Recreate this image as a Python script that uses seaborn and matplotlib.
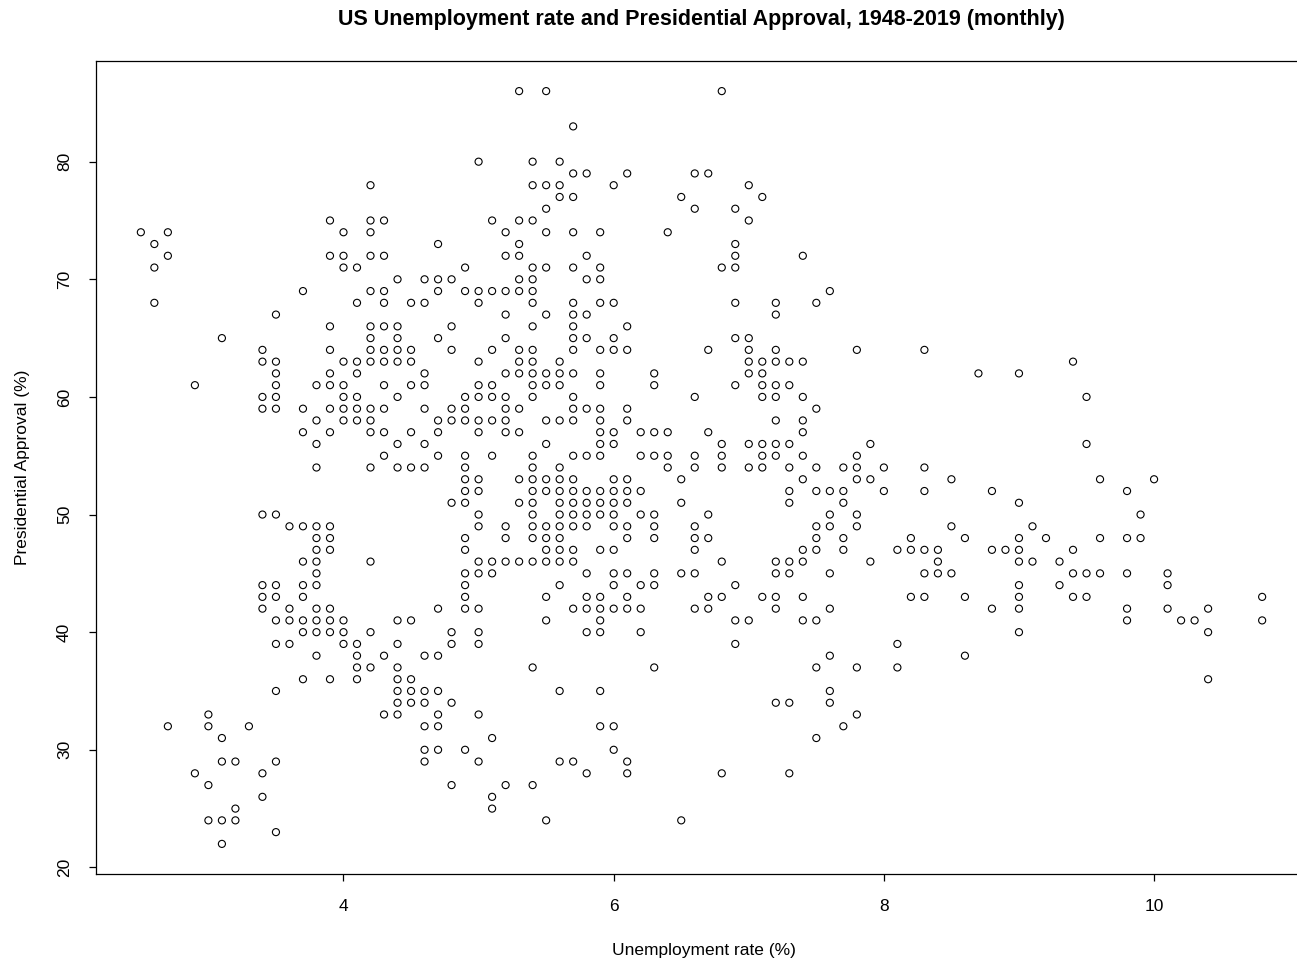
import matplotlib
matplotlib.use("Agg")
import matplotlib.pyplot as plt
import seaborn as sns
import pandas as pd

# Presidential approval levels (%) and the unemployment rates (%) observed at each level
approval_levels = [86, 83, 80, 79, 78, 77, 76, 75, 74, 73, 72, 71, 70, 69, 68, 67, 66, 65,
                   64, 63, 62, 61, 60, 59, 58, 57, 56, 55, 54, 53, 52, 51, 50, 49, 48, 47,
                   46, 45, 44, 43, 42, 41, 40, 39, 38, 37, 36, 35, 34, 33, 32, 31, 30, 29,
                   28, 27, 26, 25, 24, 23, 22]

unemployment_by_level = [
    [5.3, 5.5, 6.8],
    [5.7],
    [5.0, 5.4, 5.6],
    [5.7, 5.8, 6.1, 6.6, 6.7],
    [4.2, 5.4, 5.5, 5.6, 6.0, 7.0],
    [5.6, 5.7, 6.5, 7.1],
    [5.5, 6.6, 6.9],
    [3.9, 4.2, 4.3, 5.1, 5.3, 5.4, 7.0],
    [2.5, 2.7, 4.0, 4.2, 5.2, 5.5, 5.7, 5.9, 6.4],
    [2.6, 4.7, 5.3, 6.9],
    [2.7, 3.9, 4.0, 4.2, 4.3, 5.2, 5.3, 5.8, 6.9, 7.4],
    [2.6, 4.0, 4.1, 4.9, 5.4, 5.5, 5.7, 5.9, 6.8, 6.9],
    [4.4, 4.6, 4.7, 4.8, 5.3, 5.4, 5.8, 5.9],
    [3.7, 4.2, 4.3, 4.7, 4.9, 5.0, 5.1, 5.2, 5.3, 5.4, 7.6],
    [2.6, 4.1, 4.3, 4.5, 4.6, 5.0, 5.4, 5.7, 5.9, 6.0, 6.9, 7.2, 7.5],
    [3.5, 5.2, 5.5, 5.7, 5.8, 7.2],
    [3.9, 4.2, 4.3, 4.4, 4.8, 5.4, 5.7, 6.1],
    [3.1, 4.2, 4.4, 4.7, 5.2, 5.7, 5.8, 6.0, 6.9, 7.0],
    [3.4, 3.9, 4.2, 4.3, 4.4, 4.5, 4.8, 5.1, 5.3, 5.4, 5.7, 5.9, 6.0, 6.1, 6.7, 7.0, 7.2,
     7.8, 8.3],
    [3.4, 3.5, 4.0, 4.1, 4.2, 4.3, 4.4, 4.5, 5.0, 5.3, 5.4, 5.6, 7.0, 7.1, 7.2, 7.3, 7.4, 9.4],
    [3.5, 3.9, 4.1, 4.6, 5.2, 5.3, 5.4, 5.5, 5.6, 5.7, 5.9, 6.3, 7.0, 7.1, 8.7, 9.0],
    [2.9, 3.5, 3.8, 3.9, 4.0, 4.3, 4.5, 4.6, 5.0, 5.1, 5.4, 5.5, 5.6, 5.9, 6.3, 6.9, 7.1,
     7.2, 7.3],
    [3.4, 3.5, 4.0, 4.1, 4.4, 4.9, 5.0, 5.1, 5.2, 5.4, 5.7, 6.6, 7.1, 7.2, 7.4, 9.5],
    [3.4, 3.5, 3.7, 3.9, 4.0, 4.1, 4.2, 4.3, 4.6, 4.8, 4.9, 5.2, 5.3, 5.7, 5.8, 5.9, 6.1, 7.5],
    [3.8, 4.0, 4.1, 4.2, 4.7, 4.8, 4.9, 5.0, 5.1, 5.2, 5.5, 5.6, 5.7, 5.9, 6.1, 7.2, 7.4],
    [3.7, 3.9, 4.2, 4.3, 4.5, 4.7, 5.0, 5.2, 5.3, 5.9, 6.0, 6.2, 6.3, 6.4, 6.7, 7.4],
    [3.8, 4.4, 4.6, 5.5, 5.9, 6.0, 6.8, 7.0, 7.1, 7.2, 7.3, 7.9, 9.5],
    [4.3, 4.7, 4.9, 5.1, 5.4, 5.7, 5.8, 5.9, 6.2, 6.3, 6.4, 6.6, 6.8, 7.1, 7.2, 7.4, 7.8],
    [3.8, 4.2, 4.4, 4.5, 4.6, 4.9, 5.4, 5.6, 6.4, 6.6, 6.8, 7.0, 7.1, 7.3, 7.5, 7.7, 7.8,
     8.0, 8.3],
    [4.9, 5.0, 5.3, 5.4, 5.5, 5.6, 5.7, 6.0, 6.1, 6.5, 7.4, 7.8, 7.9, 8.5, 9.6, 10.0],
    [4.9, 5.0, 5.4, 5.5, 5.6, 5.7, 5.8, 5.9, 6.0, 6.1, 6.2, 7.3, 7.5, 7.6, 7.7, 8.0, 8.3,
     8.8, 9.8],
    [4.8, 4.9, 5.3, 5.4, 5.6, 5.7, 5.8, 5.9, 6.0, 6.1, 6.5, 7.3, 7.7, 9.0],
    [3.4, 3.5, 5.0, 5.4, 5.6, 5.7, 5.8, 5.9, 6.0, 6.2, 6.3, 6.7, 7.6, 7.8, 9.9],
    [3.6, 3.7, 3.8, 3.9, 5.0, 5.2, 5.4, 5.5, 5.6, 5.7, 5.8, 6.0, 6.1, 6.3, 6.6, 7.5, 7.6,
     7.8, 8.5, 9.1],
    [3.8, 3.9, 4.9, 5.2, 5.4, 5.5, 5.6, 6.1, 6.3, 6.6, 6.7, 7.5, 7.7, 8.2, 8.6, 9.0, 9.2,
     9.6, 9.8, 9.9],
    [3.8, 3.9, 4.9, 5.5, 5.6, 5.7, 5.9, 6.0, 6.6, 7.4, 7.5, 7.7, 8.1, 8.2, 8.3, 8.4, 8.8,
     8.9, 9.0, 9.4],
    [3.7, 3.8, 4.2, 5.0, 5.1, 5.2, 5.3, 5.4, 5.5, 5.6, 5.7, 6.8, 7.2, 7.3, 7.4, 7.9, 8.4,
     9.0, 9.1, 9.3],
    [3.8, 4.9, 5.0, 5.1, 5.8, 6.0, 6.1, 6.3, 6.5, 6.6, 7.2, 7.3, 7.6, 8.3, 8.4, 8.5, 9.4,
     9.5, 9.6, 9.8, 10.1],
    [3.4, 3.5, 3.7, 3.8, 4.9, 5.6, 6.0, 6.2, 6.3, 6.9, 9.0, 9.3, 10.1],
    [3.4, 3.5, 3.7, 4.9, 5.5, 5.8, 5.9, 6.1, 6.7, 6.8, 7.1, 7.2, 7.4, 8.2, 8.3, 8.6, 9.0,
     9.4, 9.5, 10.8],
    [3.4, 3.6, 3.8, 3.9, 4.7, 4.9, 5.0, 5.7, 5.8, 5.9, 6.0, 6.1, 6.2, 6.6, 6.7, 7.2, 7.6,
     8.8, 9.0, 9.8, 10.1, 10.4],
    [3.5, 3.6, 3.7, 3.8, 3.9, 4.0, 4.4, 4.5, 5.5, 5.9, 6.9, 7.0, 7.4, 7.5, 9.8, 10.2, 10.3,
     10.8],
    [3.7, 3.8, 3.9, 4.0, 4.2, 4.8, 5.0, 5.8, 5.9, 6.2, 9.0, 10.4],
    [3.5, 3.6, 4.0, 4.1, 4.4, 4.8, 5.0, 6.9, 8.1],
    [3.8, 4.1, 4.3, 4.6, 4.7, 7.6, 8.6],
    [4.1, 4.2, 4.4, 5.4, 6.3, 7.5, 7.8, 8.1],
    [3.7, 3.9, 4.1, 4.4, 4.5, 10.4],
    [3.5, 4.4, 4.5, 4.6, 4.7, 5.6, 5.9, 7.6],
    [4.4, 4.5, 4.6, 4.8, 7.2, 7.3, 7.6],
    [3.0, 4.3, 4.4, 4.7, 5.0, 7.8],
    [2.7, 3.0, 3.3, 4.6, 4.7, 5.9, 6.0, 7.7],
    [3.1, 5.1, 7.5],
    [4.6, 4.7, 4.9, 6.0],
    [3.1, 3.2, 3.5, 4.6, 5.0, 5.6, 5.7, 6.1],
    [2.9, 3.4, 5.8, 6.1, 6.8, 7.3],
    [3.0, 4.8, 5.2, 5.4],
    [3.4, 5.1],
    [3.2, 5.1],
    [3.0, 3.1, 3.2, 5.5, 6.5],
    [3.5],
    [3.1],
]

x_ticks = [4, 6, 8, 10]
y_ticks = [20, 30, 40, 50, 60, 70, 80]

title = "US Unemployment rate and Presidential Approval, 1948-2019 (monthly)"
x_label = "Unemployment rate (%)"
y_label = "Presidential Approval (%)"

# Long-form table: one row per (unemployment, approval) observation
records = [(u, level) for level, rates in zip(approval_levels, unemployment_by_level)
           for u in rates]
df = pd.DataFrame(records, columns=["unemployment", "approval"])

sns.set_style("ticks")
plt.rcParams["font.family"] = ["Liberation Sans", "DejaVu Sans"]

W, H = 1297, 961
fig = plt.figure(figsize=(W / 100, H / 100), dpi=100)
fig.patch.set_facecolor("white")

# Base-graphics style ranges: data range padded by 4% on each side
xmin, xmax = df["unemployment"].min(), df["unemployment"].max()
ymin, ymax = df["approval"].min(), df["approval"].max()
xpad, ypad = 0.04 * (xmax - xmin), 0.04 * (ymax - ymin)
x_lo, x_hi = xmin - xpad, xmax + xpad
y_lo, y_hi = ymin - ypad, ymax + ypad

# Plot box: left edge at 96 px, top at 61 px, bottom at 874 px; right edge runs past the canvas
left_px, right_px, top_px, bottom_px = 96, 1307, 61, 874
ax = fig.add_axes([left_px / W, (H - bottom_px) / H,
                   (right_px - left_px) / W, (bottom_px - top_px) / H])

sns.scatterplot(data=df, x="unemployment", y="approval", ax=ax,
                marker="o", s=26, linewidth=0.8, legend=False)
coll = ax.collections[0]
coll.set_facecolor("none")
coll.set_edgecolor("black")
coll.set_clip_on(False)

ax.set_xlim(x_lo, x_hi)
ax.set_ylim(y_lo, y_hi)
ax.set_xticks(x_ticks)
ax.set_yticks(y_ticks)
ax.set_xticklabels([str(t) for t in x_ticks])
ax.set_yticklabels([str(t) for t in y_ticks], rotation=90, va="center")

for side in ["left", "right", "top", "bottom"]:
    ax.spines[side].set_visible(True)
    ax.spines[side].set_color("black")
    ax.spines[side].set_linewidth(0.9)

ax.tick_params(axis="both", direction="out", length=5.2, width=0.9, color="black",
               labelsize=12.5, labelcolor="black")
ax.tick_params(axis="x", pad=13)
ax.tick_params(axis="y", pad=12)

ax.set_xlabel(x_label, fontsize=12.5, color="black")
ax.set_ylabel(y_label, fontsize=12.5, color="black")
ax.xaxis.label.set_va("center")
ax.yaxis.label.set_va("center")
ax.xaxis.set_label_coords((704 - left_px) / (right_px - left_px),
                          (bottom_px - 950) / (bottom_px - top_px))
ax.yaxis.set_label_coords((22 - left_px) / (right_px - left_px), 0.5)

fig.text((left_px + right_px) / 2 / W, 1 - 19 / H, title, ha="center", va="center",
         fontsize=15.5, fontweight="bold", color="black")

fig.savefig("out.png", dpi=100, facecolor="white")
